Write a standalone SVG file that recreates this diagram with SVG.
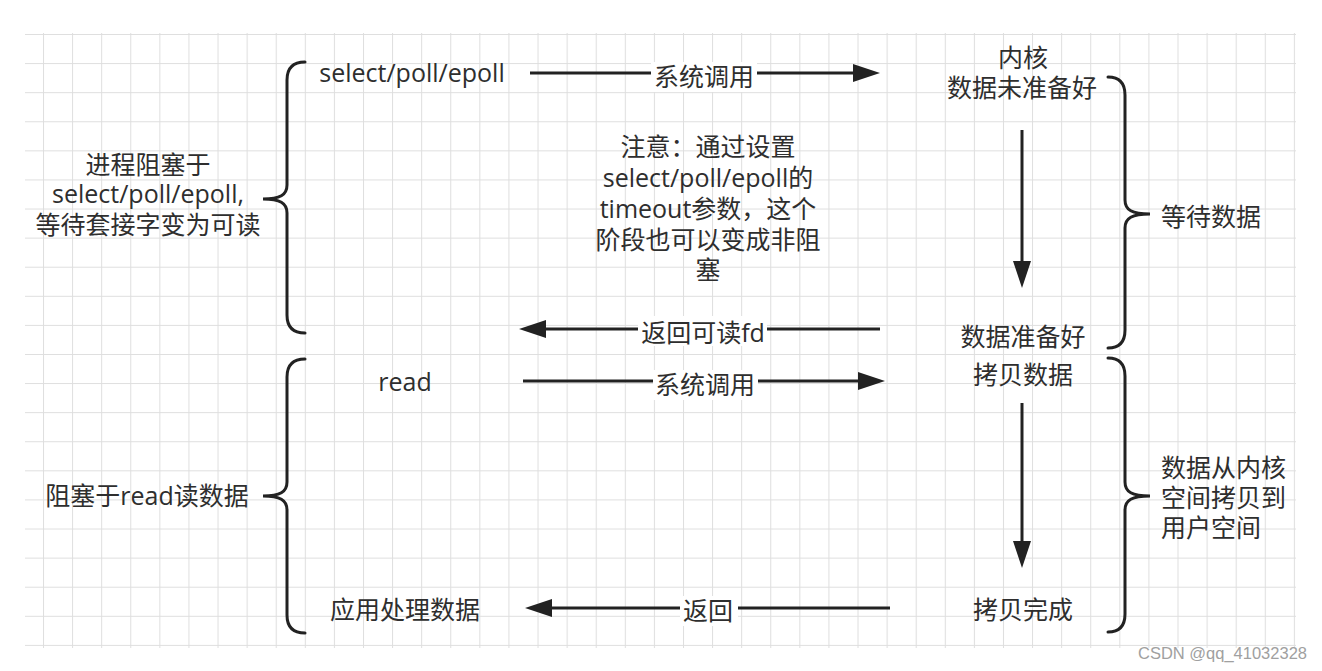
<svg xmlns="http://www.w3.org/2000/svg" width="1322" height="671" viewBox="0 0 1322 671">
<defs>
<pattern id="grid" patternUnits="userSpaceOnUse" x="43" y="34" width="29.09" height="29.09">
<path d="M0,0 H29.09 M0,0 V29.09" fill="none" stroke="#dedede" stroke-width="2"/>
</pattern>
<marker id="head" markerUnits="userSpaceOnUse" markerWidth="28" markerHeight="20" refX="2" refY="9" orient="auto">
<path d="M0,0 L27,9 L0,18 z" fill="#222"/>
</marker>
<style>
text{font-family:"Open Sans","Noto Sans CJK SC",sans-serif;font-size:25px;fill:#2e2e2e}
.c{text-anchor:middle}
.brace{fill:none;stroke:#222;stroke-width:3;stroke-linecap:round}
.line{fill:none;stroke:#222;stroke-width:3}
.lbl{fill:#fff}
.wm{font-family:"Liberation Sans",sans-serif;font-size:16.5px;fill:#a0a0a0}
</style>
</defs>
<rect x="0" y="0" width="1322" height="671" fill="#fff"/>
<rect x="25" y="33" width="1271" height="615" fill="url(#grid)"/>

<g id="connectors">
<line class="line" x1="530" y1="73" x2="855" y2="73" marker-end="url(#head)"/>
<rect class="lbl" x="651" y="62" width="106" height="30"/>
<text class="c" x="704" y="86">系统调用</text>

<line class="line" x1="880" y1="329" x2="544" y2="329" marker-end="url(#head)"/>
<rect class="lbl" x="638" y="316" width="129" height="30"/>
<text class="c" x="703" y="342">返回可读fd</text>

<line class="line" x1="523" y1="381" x2="860" y2="381" marker-end="url(#head)"/>
<rect class="lbl" x="653" y="370" width="105" height="30"/>
<text class="c" x="705" y="394">系统调用</text>

<line class="line" x1="890" y1="608" x2="550" y2="608" marker-end="url(#head)"/>
<rect class="lbl" x="680" y="596" width="58" height="30"/>
<text class="c" x="708" y="620">返回</text>

<line class="line" x1="1022" y1="130" x2="1022" y2="263" marker-end="url(#head)"/>
<line class="line" x1="1022" y1="403" x2="1022" y2="543" marker-end="url(#head)"/>
</g>

<g id="brace-left-1">
<path class="brace" d="M305,62 C293,62 287,68 287,80 L287,185 C287,195 280,199 263,199 C280,199 287,203 287,213 L287,315 C287,327 293,333 305,333"/>
<text class="c" x="148" y="174">进程阻塞于</text>
<text class="c" x="148" y="203">select/poll/epoll,</text>
<text class="c" x="148" y="234">等待套接字变为可读</text>
</g>

<g id="brace-left-2">
<path class="brace" d="M305,359 C293,359 287,365 287,377 L287,482 C287,492 280,496 263,496 C280,496 287,500 287,510 L287,615 C287,627 293,633 305,633"/>
<text class="c" x="147" y="505">阻塞于read读数据</text>
</g>

<g id="brace-right-1">
<path class="brace" d="M1108,77 C1119,77 1125,83 1125,95 L1125,200 C1125,210 1132,214 1150,214 C1132,214 1125,218 1125,228 L1125,330 C1125,342 1119,348 1108,348"/>
<text x="1161" y="226">等待数据</text>
</g>

<g id="brace-right-2">
<path class="brace" d="M1108,358 C1119,358 1125,364 1125,376 L1125,482 C1125,492 1132,496 1150,496 C1132,496 1125,500 1125,510 L1125,614 C1125,626 1119,632 1108,632"/>
<text x="1161" y="477">数据从内核</text>
<text x="1161" y="507">空间拷贝到</text>
<text x="1161" y="537">用户空间</text>
</g>

<g id="node-select">
<text class="c" x="412" y="82">select/poll/epoll</text>
</g>

<g id="node-kernel">
<text class="c" x="1023" y="67">内核</text>
<text class="c" x="1022" y="97">数据未准备好</text>
</g>

<g id="node-note">
<text class="c" x="708" y="156">注意：通过设置</text>
<text class="c" x="708" y="187">select/poll/epoll的</text>
<text class="c" x="708" y="218">timeout参数，这个</text>
<text class="c" x="708" y="249">阶段也可以变成非阻</text>
<text class="c" x="708" y="279">塞</text>
</g>

<g id="node-ready">
<text class="c" x="1023" y="346">数据准备好</text>
</g>

<g id="node-read">
<text class="c" x="405" y="391">read</text>
</g>

<g id="node-copy">
<text class="c" x="1023" y="384">拷贝数据</text>
</g>

<g id="node-app">
<text class="c" x="405" y="619">应用处理数据</text>
</g>

<g id="node-copydone">
<text class="c" x="1023" y="619">拷贝完成</text>
</g>

<text class="wm" x="1307" y="659" text-anchor="end">CSDN @qq_41032328</text>
</svg>
